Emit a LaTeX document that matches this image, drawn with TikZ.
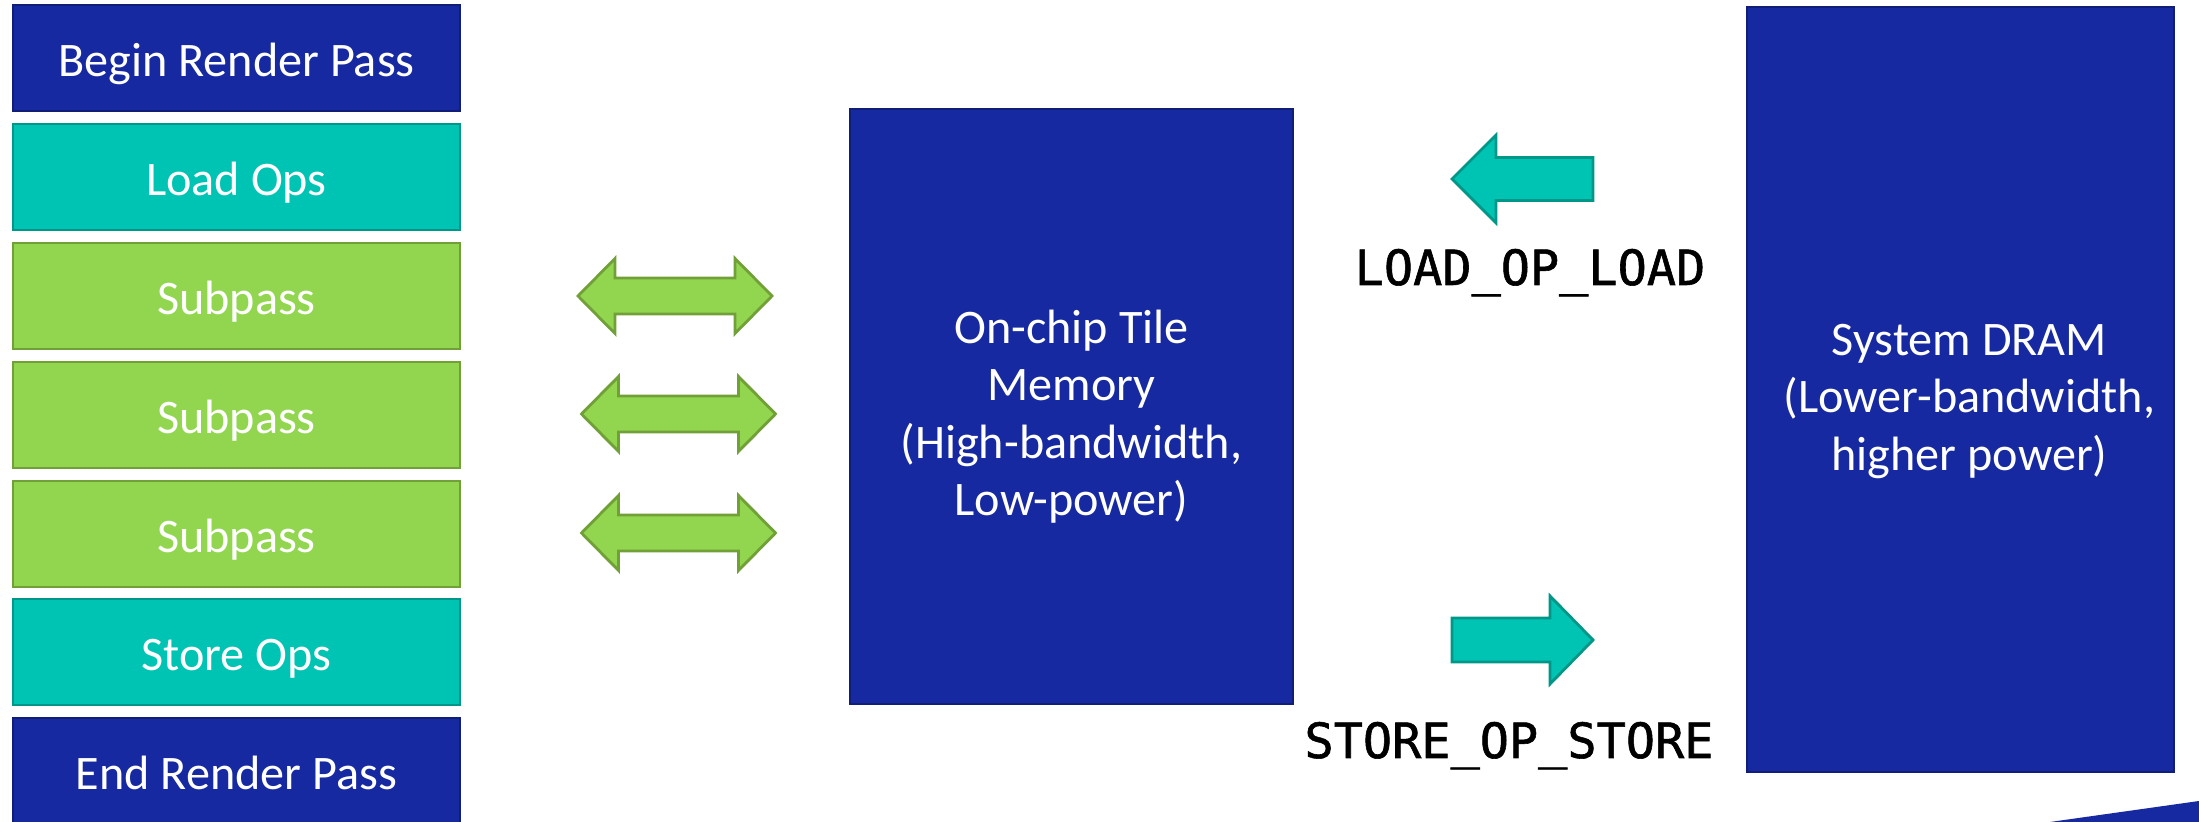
\documentclass[tikz,border=0pt]{standalone}
\usepackage{fontspec}
\setmainfont{Carlito}
\newfontfamily\monofont[FakeBold=1.2]{DejaVu Sans Mono}
\definecolor{dblue}{RGB}{22,41,160}
\definecolor{dblueline}{RGB}{16,30,120}
\definecolor{teal1}{RGB}{0,196,179}
\definecolor{tealline}{RGB}{0,150,136}
\definecolor{green1}{RGB}{146,214,80}
\definecolor{greenline}{RGB}{112,160,55}
\tikzset{
  lbox/.style={rectangle, minimum width=4.47cm, minimum height=1.06cm, inner sep=0pt,
    text height=0.37cm, text depth=0pt,
    text=white, line width=0.6pt, font=\fontsize{13.7}{16.2}\selectfont},
  bluebox/.style={lbox, fill=dblue, draw=dblueline},
  tealbox/.style={lbox, fill=teal1, draw=tealline},
  greenbox/.style={lbox, fill=green1, draw=greenline},
  bigbox/.style={rectangle, fill=dblue, draw=dblueline, line width=0.6pt, inner sep=0pt},
  bigtext/.style={text=white, align=center, inner sep=0pt, font=\fontsize{13.7}{16.3}\selectfont},
  oplabel/.style={anchor=base, inner sep=0pt, font=\monofont\fontsize{13.8}{16}\selectfont},
  greenarrow/.style={fill=green1, draw=greenline, line width=0.8pt, line join=miter},
  tealarrow/.style={fill=teal1, draw=tealline, line width=0.8pt, line join=miter},
  dbl/.pic={\draw[greenarrow] (-97,0) -- (-60,-37.5) -- (-60,-18) -- (60,-18) -- (60,-37.5)
      -- (97,0) -- (60,37.5) -- (60,18) -- (-60,18) -- (-60,37.5) -- cycle;},
  larrow/.pic={\draw[tealarrow] (-70.5,0) -- (-26.5,-44) -- (-26.5,-21.5) -- (70.5,-21.5)
      -- (70.5,21.5) -- (-26.5,21.5) -- (-26.5,44) -- cycle;},
  rarrow/.pic={\draw[tealarrow] (70.5,0) -- (27.5,-44) -- (27.5,-22) -- (-70.5,-22)
      -- (-70.5,22) -- (27.5,22) -- (27.5,44) -- cycle;}
}
\begin{document}
\begin{tikzpicture}[x=0.01cm,y=-0.01cm]
\useasboundingbox (0,0) rectangle (2199,822);
% left column
\node[bluebox]  (begin) at (236.5,58)  {Begin Render Pass};
\node[tealbox]  (load)  at (236.5,177) {Load Ops};
\node[greenbox] (sub1)  at (236.5,296) {Subpass};
\node[greenbox] (sub2)  at (236.5,415) {Subpass};
\node[greenbox] (sub3)  at (236.5,534) {Subpass};
\node[tealbox]  (store) at (236.5,652) {Store Ops};
\node[bluebox]  (end)   at (236.5,771) {End Render Pass};
% tile memory
\node[bigbox, minimum width=4.43cm, minimum height=5.95cm] (tile) at (1071.5,406.5) {};
\node[bigtext] (tiletext) at ([yshift=-0.1cm]tile.center)
  {On-chip Tile\\Memory\\(High-bandwidth,\\Low-power)};
% DRAM
\node[bigbox, minimum width=4.27cm, minimum height=7.65cm] (dram) at (1960.5,389.5) {};
\node[bigtext] (dramtext) at ([xshift=0.09cm,yshift=-0.12cm]dram.center)
  {System DRAM\\(Lower-bandwidth,\\higher power)};
% double arrows
\coordinate (d1) at (675,296);
\coordinate (d2) at (678.5,414);
\coordinate (d3) at (678.5,533);
\pic at (d1) {dbl};
\pic at (d2) {dbl};
\pic at (d3) {dbl};
% load / store arrows
\coordinate (la) at (1522.5,179);
\coordinate (sa) at (1522.5,640);
\pic at (la) {larrow};
\pic at (sa) {rarrow};
\node[oplabel] (loadlbl) at (1530,285) {LOAD\_OP\_LOAD};
\node[oplabel] (storelbl) at (1509,758) {STORE\_OP\_STORE};
% corner wedge
\fill[dblue] (2050,822) -- (2199,801) -- (2199,822) -- cycle;
\end{tikzpicture}
\end{document}
